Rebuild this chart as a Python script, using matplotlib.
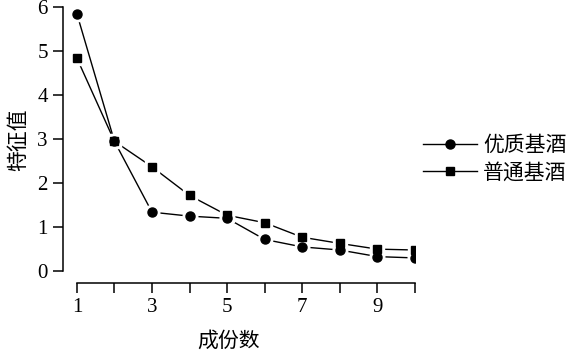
import matplotlib.pyplot as plt

# data
n = [1, 2, 3, 4, 5, 6, 7, 8, 9, 10]
youzhi = [5.85, 2.95, 1.34, 1.25, 1.2, 0.72, 0.55, 0.48, 0.33, 0.3]
putong = [4.84, 2.95, 2.37, 1.72, 1.27, 1.1, 0.77, 0.63, 0.5, 0.48]
labels = ["优质基酒", "普通基酒"]

cjk = ["Noto Sans CJK SC", "DejaVu Sans"]
serif = ["Liberation Serif", "DejaVu Serif"]

fig = plt.figure(figsize=(5.7, 3.51), dpi=100)
ax = fig.add_axes([0.1105, 0.1937, 0.6175, 0.786])

# lines first, white halo markers to make the little gaps, then black markers
for y, m, ms, lab in [(youzhi, "o", 6.5, labels[0]), (putong, "s", 5.5, labels[1])]:
    ax.plot(n, y, color="black", lw=1.0, zorder=1)
    ax.plot(n, y, ls="none", marker=m, ms=ms + 4, mfc="white", mec="white", zorder=2)
    ax.plot(n, y, ls="none", marker=m, ms=ms, mfc="black", mec="black", zorder=3)
    ax.plot([], [], color="black", lw=1.0, marker=m, ms=ms, label=lab)

ax.set_xlim(0.63, 10.0)
ax.set_ylim(-0.27, 6.0)
ax.spines["top"].set_visible(False)
ax.spines["right"].set_visible(False)
ax.spines["left"].set_bounds(0, 6)
ax.spines["bottom"].set_bounds(1, 10)
for s in ["left", "bottom"]:
    ax.spines[s].set_linewidth(1.1)

ax.set_xticks(n)
ax.set_xticklabels([str(i) if i % 2 == 1 else "" for i in n])
ax.set_yticks([0, 1, 2, 3, 4, 5, 6])
ax.tick_params(length=7, width=1.1, labelsize=15, pad=4)
for t in ax.get_xticklabels() + ax.get_yticklabels():
    t.set_family(serif)

ax.set_xlabel("成份数", family=cjk, fontsize=15)
ax.xaxis.set_label_coords(0.47, -0.17)
ax.set_ylabel("特征值", family=cjk, fontsize=15)
ax.yaxis.set_label_coords(-0.097, 0.52)

handles, labs = ax.get_legend_handles_labels()
fig.legend(handles[-2:], labs[-2:], loc="center left", bbox_to_anchor=(0.742, 0.547),
           frameon=False, borderpad=0, borderaxespad=0, handlelength=2.6,
           handletextpad=0.3, labelspacing=0.25, prop={"family": cjk, "size": 15})

fig.savefig("out.png", dpi=100)
